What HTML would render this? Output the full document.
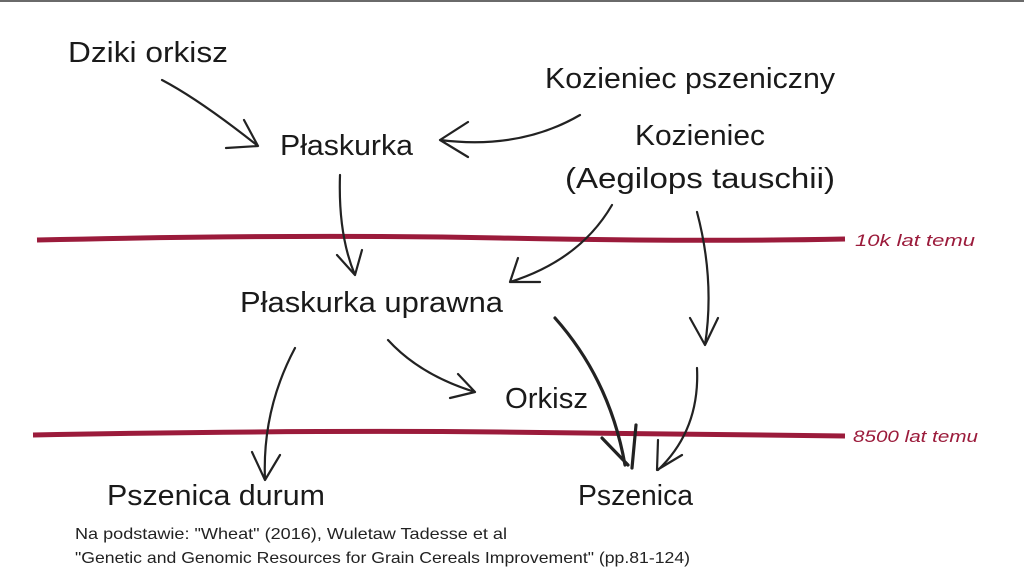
<!DOCTYPE html>
<html><head><meta charset="utf-8"><style>
html,body{margin:0;padding:0;background:#fff;}
svg{display:block}
.t{font-family:"Liberation Sans",sans-serif;font-size:29px;fill:#1a1a1a;}
.r{font-family:"Liberation Sans",sans-serif;font-size:17px;font-style:italic;fill:#9b1b3b;}
.f{font-family:"Liberation Sans",sans-serif;font-size:16px;fill:#222;}
.a{fill:none;stroke:#222;stroke-width:2.2;stroke-linecap:round;stroke-linejoin:round}
</style></head><body>
<svg width="1024" height="576" viewBox="0 0 1024 576" xmlns="http://www.w3.org/2000/svg">
<rect x="0" y="0" width="1024" height="2" fill="#6a6a6a"/>
<path d="M37 240 Q300 234 500 238 T845 239" stroke="#9b1b3b" stroke-width="5" fill="none"/>
<path d="M33 435 Q300 430 500 432 T845 436" stroke="#9b1b3b" stroke-width="5" fill="none"/>
<text class="r" x="855" y="246" textLength="120" lengthAdjust="spacingAndGlyphs">10k lat temu</text>
<text class="r" x="853" y="442" textLength="125" lengthAdjust="spacingAndGlyphs">8500 lat temu</text>
<text class="t" x="68" y="62" textLength="160" lengthAdjust="spacingAndGlyphs">Dziki orkisz</text>
<text class="t" x="545" y="88" textLength="290" lengthAdjust="spacingAndGlyphs">Kozieniec pszeniczny</text>
<text class="t" x="280" y="155" textLength="133" lengthAdjust="spacingAndGlyphs">Płaskurka</text>
<text class="t" x="635" y="145" textLength="130" lengthAdjust="spacingAndGlyphs">Kozieniec</text>
<text class="t" x="565" y="188" textLength="270" lengthAdjust="spacingAndGlyphs">(Aegilops tauschii)</text>
<text class="t" x="240" y="312" textLength="263" lengthAdjust="spacingAndGlyphs">Płaskurka uprawna</text>
<text class="t" x="505" y="408" textLength="83" lengthAdjust="spacingAndGlyphs">Orkisz</text>
<text class="t" x="107" y="505" textLength="218" lengthAdjust="spacingAndGlyphs">Pszenica durum</text>
<text class="t" x="578" y="505" textLength="115" lengthAdjust="spacingAndGlyphs">Pszenica</text>
<text class="f" x="75" y="539" textLength="432" lengthAdjust="spacingAndGlyphs">Na podstawie: "Wheat" (2016), Wuletaw Tadesse et al</text>
<text class="f" x="75" y="563" textLength="615" lengthAdjust="spacingAndGlyphs">"Genetic and Genomic Resources for Grain Cereals Improvement" (pp.81-124)</text>
<path class="a" d="M162 80 Q200 100 258 146 M226 148 L258 146 L244 120"/>
<path class="a" d="M580 115 Q520 150 440 140 M468 122 L440 140 L468 157"/>
<path class="a" d="M340 175 Q338 235 355 275 M337 255 L355 275 L362 250"/>
<path class="a" d="M612 205 Q580 260 510 282 M518 258 L510 282 L540 282"/>
<path class="a" d="M697 212 Q715 280 705 345 M690 318 L705 345 L718 318"/>
<path class="a" d="M295 348 Q262 410 265 480 M252 452 L265 480 L280 455"/>
<path class="a" d="M388 340 Q420 375 475 392 M458 374 L475 392 L450 398"/>
<path class="a" d="M555 318 Q610 380 625 465 M602 438 L628 465 M636 425 L632 468" style="stroke-width:3.2"/>
<path class="a" d="M697 368 Q700 430 658 470 M658 440 L657 470 L682 455"/>
</svg>
</body></html>
